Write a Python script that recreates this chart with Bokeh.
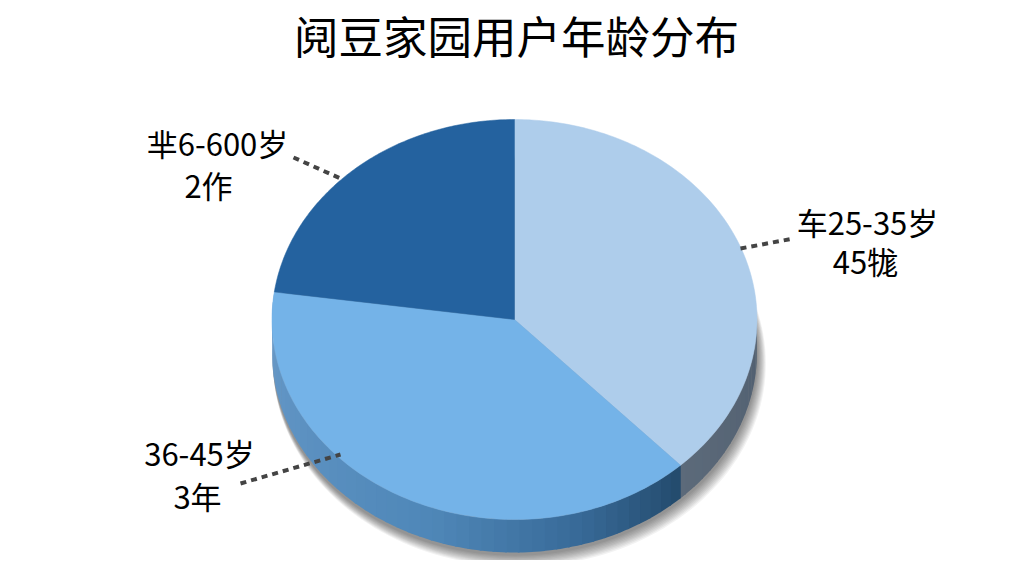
from bokeh.plotting import figure
from bokeh.embed import file_html
from bokeh.resources import INLINE
from bokeh.core.properties import value
from bokeh.models import ColumnDataSource
import numpy as np

title = "阋豆家园用户年龄分布"
categories = ["25-35岁", "36-45岁", "46-60岁"]
shares = [38.0, 39.2, 22.8]
top_colors = ["#AECDEB", "#74B3E8", "#24629F"]
label_lines = ["车25-35岁", "45牻", "36-45岁", "3年", "芈6-600岁", "2作"]
side_stops = [(90.0, "#505F70"), (136.8, "#5C6A7A"), (136.8, "#234A6C"),
              (165.0, "#386A98"), (200.0, "#4F87B8"), (277.0, "#689AC9")]

CX, CY, RX, RY, DEPTH = 514.0, 319.0, 242.5, 200.0, 33.0

p = figure(width=1008, height=560, x_range=(0, 1008), y_range=(560, 0),
           output_backend="svg", toolbar_location=None, min_border=0,
           outline_line_color=None, background_fill_color="white")
p.axis.visible = False
p.grid.visible = False

def ell(t, dy=0.0, k=1.0):
    r = np.radians(t)
    return CX + k * RX * np.sin(r), CY + dy + k * RY * (-np.cos(r))

def hex2rgb(h):
    return np.array([int(h[i:i + 2], 16) for i in (1, 3, 5)], dtype=float)

def side_color(t):
    for (a, ca), (b, cb) in zip(side_stops, side_stops[1:]):
        if a <= t <= b and b > a:
            f = (t - a) / (b - a)
            c = hex2rgb(ca) * (1 - f) + hex2rgb(cb) * f
            return "#%02x%02x%02x" % tuple(int(round(v)) for v in c)
    return side_stops[-1][1]

# soft shadow beneath the disc
tt = np.linspace(0, 360, 181)
for i in range(10):
    d = 10 - i
    xs, ys = ell(tt, DEPTH + 2 + d * 0.4, 1 + d * 0.0016)
    xs = xs + d * 0.5
    p.patch(xs, ys + d * 0.5, fill_color="#000000", fill_alpha=0.05, line_color=None)

# side wall, cut into narrow strips
edges = np.cumsum([0.0] + shares) * 3.6
boundary = edges[1]
strips = np.concatenate([np.arange(90, boundary, 3.0), [boundary],
                         np.arange(boundary + 0.01, 277.5, 3.0), [277.5]])
for a, b in zip(strips, strips[1:]):
    ts = np.linspace(a, b + 0.4, 4)
    x1, y1 = ell(ts)
    x2, y2 = ell(ts[::-1], DEPTH)
    p.patch(np.r_[x1, x2], np.r_[y1, y2], fill_color=side_color((a + b) / 2), line_color=None)

# top face
for a, b, c in zip(edges, edges[1:], top_colors):
    ts = np.linspace(a, b, 120)
    x, y = ell(ts)
    p.patch(np.r_[CX, x], np.r_[CY, y], fill_color=c, line_color=c, line_width=0.5)

# leader lines
lead_x = [[740, 793], [240, 340], [293, 340]]
lead_y = [[248, 238], [483, 454], [157, 178]]
p.multi_line(lead_x, lead_y, line_color="#444444", line_width=4, line_dash="6 5")

# texts
src = ColumnDataSource(dict(x=[867, 865, 199, 197, 217, 208],
                            y=[221, 260, 452, 495, 142, 184],
                            t=label_lines))
p.text("x", "y", text="t", source=src, text_font=value("Noto Sans CJK SC"),
       text_font_size="31px", text_color="#000000", text_align="center", text_baseline="middle")
p.text([516], [34], text=[title], text_font=value("Noto Sans CJK SC"),
       text_font_size="44.5px", text_color="#000000",
       text_align="center", text_baseline="middle")

open("out.html", "w").write(file_html(p, INLINE))
